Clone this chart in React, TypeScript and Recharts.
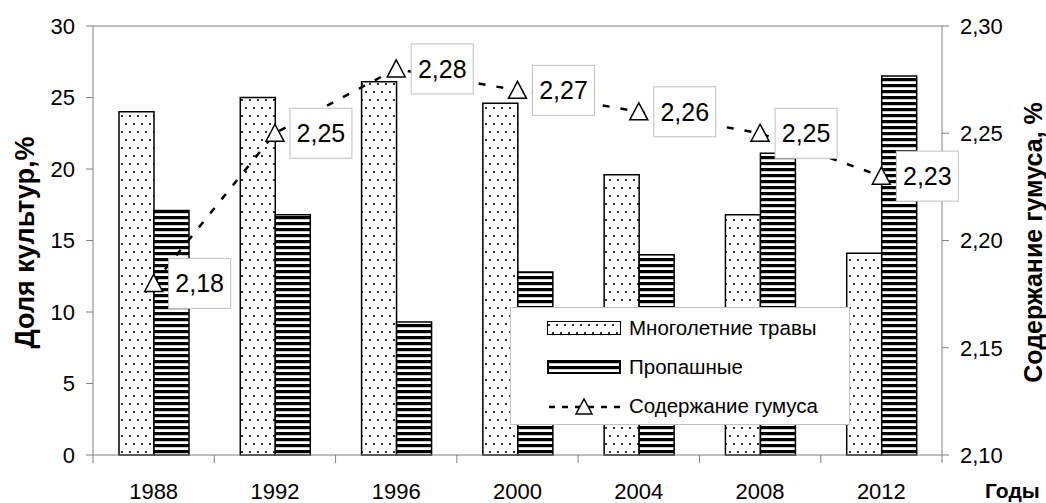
import {
  Bar,
  ComposedChart,
  Label,
  LabelList,
  Legend,
  Line,
  ReferenceLine,
  XAxis,
  YAxis,
} from 'recharts';

const years = ['1988', '1992', '1996', '2000', '2004', '2008', '2012'];
const grassShare = [24.0, 25.0, 26.1, 24.6, 19.6, 16.8, 14.1];
const rowCropShare = [17.1, 16.8, 9.3, 12.8, 14.0, 21.1, 26.5];
const humusContent = [2.18, 2.25, 2.28, 2.27, 2.26, 2.25, 2.23];

const leftTicks = [0, 5, 10, 15, 20, 25, 30];
const rightTicks = [2.1, 2.15, 2.2, 2.25, 2.3];

const data = years.map((year, i) => ({
  year,
  grass: grassShare[i],
  rowCrops: rowCropShare[i],
  humus: humusContent[i],
}));

const FONT = '"Liberation Sans", Arial, sans-serif';
const GRAY = '#808080';
const WIDTH = 1046;
const HEIGHT = 503;
const LEFT_W = 93;
const RIGHT_W = 104;
const PLOT_W = WIDTH - LEFT_W - RIGHT_W;
const TICK_FONT = 22;

const fmt = (v: number) => v.toFixed(2).replace('.', ',');

const Patterns = () => (
  <svg width={0} height={0} style={{ position: 'absolute' }}>
    <defs>
      <pattern id='dots' width={8} height={16} patternUnits='userSpaceOnUse'>
        <rect width={8} height={16} fill='#fff' />
        <circle cx={2} cy={4} r={1.1} fill='#000' />
        <circle cx={6} cy={12} r={1.1} fill='#000' />
      </pattern>
      <pattern id='stripes' width={6} height={6} patternUnits='userSpaceOnUse'>
        <rect width={6} height={6} fill='#fff' />
        <rect width={6} height={3.2} fill='#000' />
      </pattern>
    </defs>
  </svg>
);

const TriangleDot = (props: any) => {
  const { cx, cy, index } = props;
  if (cx == null || cy == null) return null;
  return (
    <polygon
      key={`tri-${index}`}
      points={`${cx},${cy - 9} ${cx - 9},${cy + 8} ${cx + 9},${cy + 8}`}
      fill='#fff'
      stroke='#000'
      strokeWidth={1.5}
    />
  );
};

const HumusLabel = (props: any) => {
  const { x, y, value } = props;
  return (
    <g>
      <rect x={x + 15} y={y - 25} width={62} height={50} fill='#fff' stroke='#c0c0c0' />
      <text
        x={x + 46}
        y={y}
        textAnchor='middle'
        dominantBaseline='central'
        fontSize={25}
        fontFamily={FONT}
        fill='#000'
      >
        {fmt(value)}
      </text>
    </g>
  );
};

const YearTick = (props: any) => {
  const { x, y, payload, index } = props;
  const half = PLOT_W / years.length / 2;
  return (
    <g>
      <line x1={x - half} x2={x - half} y1={y} y2={y + 8} stroke={GRAY} />
      {index === years.length - 1 && (
        <line x1={x + half} x2={x + half} y1={y} y2={y + 8} stroke={GRAY} />
      )}
      <text x={x} y={y + 44} textAnchor='middle' fontSize={TICK_FONT} fontFamily={FONT} fill='#000'>
        {payload.value}
      </text>
    </g>
  );
};

const VerticalTitle = ({ x, y, text, size }: { x: number; y: number; text: string; size: number }) => (
  <text
    x={x}
    y={y}
    transform={`rotate(-90 ${x} ${y})`}
    textAnchor='middle'
    dominantBaseline='central'
    fontWeight='bold'
    fontSize={size}
    fontFamily={FONT}
    fill='#000'
  >
    {text}
  </text>
);

const LegendBox = () => {
  const row = (top: number) => ({
    position: 'absolute' as const,
    left: 36,
    top,
    display: 'flex',
    alignItems: 'center',
    height: 24,
  });
  return (
    <div
      style={{
        width: 338,
        height: 116,
        border: '1px solid #c0c0c0',
        background: '#fff',
        fontFamily: FONT,
        fontSize: 20.5,
        position: 'relative',
        color: '#000',
      }}
    >
      <div style={row(8)}>
        <svg width={74} height={14}>
          <rect x={0.5} y={0.5} width={73} height={13} fill='url(#dots)' stroke='#000' />
        </svg>
        <span style={{ marginLeft: 8 }}>Многолетние травы</span>
      </div>
      <div style={row(47)}>
        <svg width={74} height={14}>
          <rect x={1} y={1} width={72} height={12} fill='url(#stripes)' stroke='#000' strokeWidth={2} />
        </svg>
        <span style={{ marginLeft: 8 }}>Пропашные</span>
      </div>
      <div style={row(86)}>
        <svg width={74} height={20}>
          <line x1={2} x2={74} y1={11} y2={11} stroke='#000' strokeWidth={2.5} strokeDasharray='6 7' />
          <polygon points='37,2 28,19 46,19' fill='#fff' stroke='none' />
          <polygon points='37,3 29,18 45,18' fill='#fff' stroke='#000' strokeWidth={1.5} />
        </svg>
        <span style={{ marginLeft: 8 }}>Содержание гумуса</span>
      </div>
    </div>
  );
};

export default function App() {
  return (
    <div style={{ position: 'absolute', left: 0, top: 0, background: '#fff' }}>
      <Patterns />
      <ComposedChart
        width={WIDTH}
        height={HEIGHT}
        data={data}
        margin={{ top: 26, right: 0, bottom: 0, left: 0 }}
        barGap={0}
        barCategoryGap='0%'
      >
        <XAxis
          dataKey='year'
          height={48}
          tickLine={false}
          tickSize={0}
          tickMargin={0}
          axisLine={{ stroke: GRAY }}
          tick={<YearTick />}
          interval={0}
        >
          <Label
            content={({ viewBox }: any) => (
              <text
                x={viewBox.x + viewBox.width + 43}
                y={viewBox.y + 43}
                fontWeight='bold'
                fontSize={21}
                fontFamily={FONT}
                fill='#000'
              >
                Годы
              </text>
            )}
          />
        </XAxis>
        <YAxis
          yAxisId='left'
          width={LEFT_W}
          domain={[0, 30]}
          ticks={leftTicks}
          tickSize={7}
          tickMargin={11}
          axisLine={{ stroke: GRAY }}
          tickLine={{ stroke: GRAY }}
          tick={{ fontSize: TICK_FONT, fill: '#000', fontFamily: FONT }}
          interval={0}
        >
          <Label
            content={({ viewBox }: any) => (
              <VerticalTitle
                x={viewBox.x + 25}
                y={viewBox.y + viewBox.height / 2 + 2}
                text='Доля культур,%'
                size={27}
              />
            )}
          />
        </YAxis>
        <YAxis
          yAxisId='right'
          orientation='right'
          width={RIGHT_W}
          domain={[2.1, 2.3]}
          ticks={rightTicks}
          tickFormatter={fmt}
          tickSize={7}
          tickMargin={11}
          axisLine={{ stroke: GRAY }}
          tickLine={{ stroke: GRAY }}
          tick={{ fontSize: TICK_FONT, fill: '#000', fontFamily: FONT }}
          interval={0}
        >
          <Label
            content={({ viewBox }: any) => (
              <VerticalTitle
                x={viewBox.x + 91}
                y={viewBox.y + viewBox.height / 2 + 2}
                text='Содержание гумуса, %'
                size={25}
              />
            )}
          />
        </YAxis>
        <ReferenceLine yAxisId='left' y={30} stroke={GRAY} />
        <Bar
          yAxisId='left'
          dataKey='grass'
          name='Многолетние травы'
          barSize={35}
          fill='url(#dots)'
          stroke='#000'
          strokeWidth={1.5}
          isAnimationActive={false}
        />
        <Bar
          yAxisId='left'
          dataKey='rowCrops'
          name='Пропашные'
          barSize={35}
          fill='url(#stripes)'
          stroke='#000'
          strokeWidth={1.5}
          isAnimationActive={false}
        />
        <Line
          yAxisId='right'
          dataKey='humus'
          name='Содержание гумуса'
          stroke='#000'
          strokeWidth={2.5}
          strokeDasharray='7 11'
          dot={TriangleDot}
          activeDot={false}
          isAnimationActive={false}
        >
          <LabelList dataKey='humus' content={HumusLabel} />
        </Line>
        <Legend
          layout='vertical'
          align='center'
          verticalAlign='middle'
          content={<LegendBox />}
          wrapperStyle={{ position: 'absolute', left: 510, top: 307, width: 340, height: 118 }}
        />
      </ComposedChart>
    </div>
  );
}
